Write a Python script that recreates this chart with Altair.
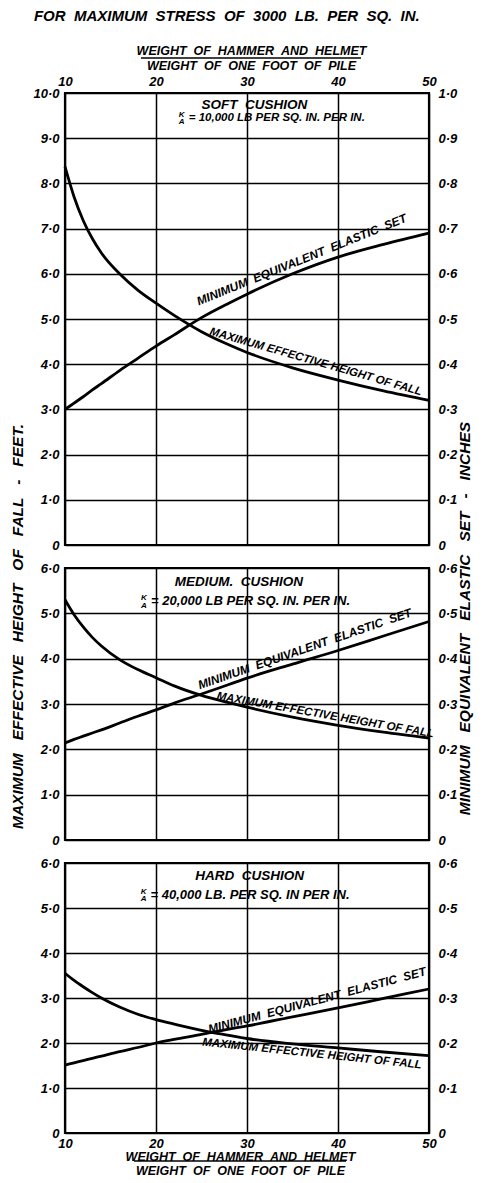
import altair as alt
import pandas as pd

FONT = "Liberation Sans"
NB = "\u00a0"

# ---------------- data ----------------
weight_ratio = [10, 11, 12, 13, 14, 16, 18, 20, 22, 25, 28, 30, 35, 40, 45, 50]

soft_height_ft = [8.37, 7.7, 7.18, 6.78, 6.46, 6.0, 5.64, 5.35, 5.08, 4.72, 4.43, 4.26, 3.92, 3.65, 3.41, 3.2]
soft_set_in = [0.30, 0.314, 0.328, 0.343, 0.357, 0.386, 0.413, 0.44, 0.465, 0.503, 0.535, 0.555, 0.60, 0.637, 0.665, 0.69]

medium_height_ft = [5.3, 4.97, 4.7, 4.47, 4.28, 3.98, 3.76, 3.58, 3.4, 3.19, 3.03, 2.93, 2.71, 2.53, 2.38, 2.25]
medium_set_in = [0.214, 0.222, 0.229, 0.236, 0.243, 0.258, 0.273, 0.287, 0.302, 0.322, 0.343, 0.357, 0.388, 0.418, 0.45, 0.482]

hard_height_ft = [3.55, 3.39, 3.25, 3.12, 3.0, 2.8, 2.64, 2.52, 2.42, 2.28, 2.17, 2.1, 1.98, 1.89, 1.8, 1.72]
hard_set_in = [0.151, 0.156, 0.161, 0.166, 0.171, 0.181, 0.19, 0.20, 0.208, 0.219, 0.231, 0.238, 0.258, 0.278, 0.299, 0.32]

x_ticks = [10, 20, 30, 40, 50]


def spaced(text, extra):
    return (" " + NB * extra).join(text.split(" "))


x_title = [spaced("WEIGHT OF HAMMER AND HELMET", 1), spaced("WEIGHT OF ONE FOOT OF PILE", 1)]
main_title = spaced("FOR MAXIMUM STRESS OF 3000 LB. PER SQ. IN.", 1)
left_title = spaced("MAXIMUM EFFECTIVE HEIGHT OF FALL - FEET.", 2)
right_title = spaced("MINIMUM EQUIVALENT ELASTIC SET - INCHES", 2)
set_label = spaced("MINIMUM EQUIVALENT ELASTIC SET", 1)
fall_label = spaced("MAXIMUM EFFECTIVE HEIGHT OF FALL", 0)

panels = [
    {"name": spaced("SOFT CUSHION", 1), "stiff": "= 10,000 LB PER SQ. IN. PER IN.", "stiff_size": 11.5,
     "height": soft_height_ft, "set": soft_set_in, "ymax": 10, "setmax": 1.0},
    {"name": spaced("MEDIUM. CUSHION", 1), "stiff": "= 20,000 LB PER SQ. IN. PER IN.", "stiff_size": 13,
     "height": medium_height_ft, "set": medium_set_in, "ymax": 6, "setmax": 0.6},
    {"name": spaced("HARD CUSHION", 1), "stiff": "= 40,000 LB. PER SQ. IN PER IN.", "stiff_size": 13,
     "height": hard_height_ft, "set": hard_set_in, "ymax": 6, "setmax": 0.6},
]

# annotation anchors in data units (x = weight ratio, y = feet), angle in degrees, side of the curve
name_pos = [(30.8, 9.73), (29.1, 5.69), (30.3, 5.71)]
stiff_pos = [(23.6, 9.45), (19.45, 5.27), (19.4, 5.29)]
set_label_pos = [(36.3, 6.17, 338, "bottom"), (36.6, 4.07, 341, "bottom"), (37.9, 2.8, 345, "bottom")]
fall_label_pos = [(37.4, 3.94, 16, "bottom"), (38.5, 2.64, 10, "bottom"), (37.2, 1.89, 6, "top")]

PLOT_W = 364
PLOT_H = [452, 272, 270]

LABEL_EXPR = "datum.value == 0 ? '0' : replace(format(datum.value, '.1f'), '.', '·')"

TXT = dict(font=FONT, fontStyle="italic", fontWeight="bold", color="black")


def one_point(x, y):
    return pd.DataFrame({"ratio": [x], "height": [y]})


def make_panel(i):
    p = panels[i]
    df = pd.DataFrame({"ratio": weight_ratio, "height": p["height"], "set": p["set"]})
    ymax = p["ymax"]
    setmax = p["setmax"]

    if i == 0:
        x_axis = alt.Axis(orient="top", values=x_ticks, labelFlush=False, labelPadding=5,
                          title=x_title, titlePadding=3, titleLineHeight=15, titleX=186, grid=True)
    elif i == 2:
        x_axis = alt.Axis(orient="bottom", values=x_ticks, labelFlush=False, labelPadding=4,
                          title=x_title, titlePadding=0, titleLineHeight=14, titleX=175, grid=True)
    else:
        x_axis = alt.Axis(orient="bottom", values=x_ticks, labels=False, title=None, grid=True)

    x_enc = alt.X("ratio:Q", scale=alt.Scale(domain=[10, 50], nice=False, zero=False), axis=x_axis)

    left_kwargs = dict(orient="left", values=list(range(0, ymax + 1)), grid=True,
                       labelExpr=LABEL_EXPR, labelPadding=6)
    if i == 1:
        left_kwargs.update(title=left_title, titleAngle=270, titleBaseline="bottom",
                           titleX=-40, titleY=58, titleFontSize=15.5)
    else:
        left_kwargs.update(title=None)
    y_enc = alt.Y("height:Q", scale=alt.Scale(domain=[0, ymax], nice=False), axis=alt.Axis(**left_kwargs))

    right_kwargs = dict(orient="right", values=[round(k * 0.1, 1) for k in range(0, int(round(setmax * 10)) + 1)],
                        grid=False, labelExpr=LABEL_EXPR, labelPadding=9)
    if i == 1:
        right_kwargs.update(title=right_title, titleAngle=270, titleBaseline="bottom",
                            titleX=43, titleY=50, titleFontSize=15.5)
    else:
        right_kwargs.update(title=None)
    y2_enc = alt.Y("set:Q", scale=alt.Scale(domain=[0, setmax], nice=False), axis=alt.Axis(**right_kwargs))

    height_line = alt.Chart(df).mark_line(color="black", strokeWidth=2.8, interpolate="monotone").encode(
        x=x_enc, y=y_enc)
    set_line = alt.Chart(df).mark_line(color="black", strokeWidth=2.8, interpolate="monotone").encode(
        x=x_enc, y=y2_enc)

    layers = [height_line]
    nx, ny = name_pos[i]
    layers.append(alt.Chart(one_point(nx, ny)).mark_text(text=p["name"], fontSize=13.5, align="center",
                                                         baseline="middle", **TXT).encode(x=x_enc, y=y_enc))
    sx, sy = stiff_pos[i]
    layers.append(alt.Chart(one_point(sx, sy)).mark_text(text=p["stiff"], fontSize=p["stiff_size"], align="left",
                                                         baseline="middle", **TXT).encode(x=x_enc, y=y_enc))
    layers.append(alt.Chart(one_point(sx, sy)).mark_text(text=["K", "A"], fontSize=8, lineHeight=7.5,
                                                         align="center", baseline="middle", dx=-7, dy=-3,
                                                         **TXT).encode(x=x_enc, y=y_enc))
    ex, ey, ea, eb = set_label_pos[i]
    layers.append(alt.Chart(one_point(ex, ey)).mark_text(text=set_label, fontSize=12,
                                                         angle=ea, align="center", baseline=eb,
                                                         **TXT).encode(x=x_enc, y=y_enc))
    fx, fy, fa, fb = fall_label_pos[i]
    layers.append(alt.Chart(one_point(fx, fy)).mark_text(text=fall_label, fontSize=11.5,
                                                         angle=fa, align="center", baseline=fb,
                                                         **TXT).encode(x=x_enc, y=y_enc))
    bar = pd.DataFrame({"a": [0]})
    if i == 0:
        layers.append(alt.Chart(bar).mark_rule(color="black", strokeWidth=1.5).encode(
            x=alt.value(76), x2=alt.value(296), y=alt.value(-35)))
    if i == 2:
        layers.append(alt.Chart(bar).mark_rule(color="black", strokeWidth=1.5).encode(
            x=alt.value(69), x2=alt.value(281), y=alt.value(298)))

    left = alt.layer(*layers)
    return alt.layer(left, set_line).resolve_scale(y="independent").properties(
        width=PLOT_W, height=PLOT_H[i])


chart = alt.vconcat(make_panel(0), make_panel(1), make_panel(2), spacing=23, bounds="flush").properties(
    title=alt.TitleParams(text=main_title, anchor="start", fontSize=15, font=FONT, fontStyle="italic",
                          fontWeight="bold", color="black", offset=19, dx=25),
    padding={"left": 0, "top": 0, "right": 0, "bottom": 0},
    background="white",
).configure_view(stroke="black", strokeWidth=2.2).configure_axis(
    domain=False, ticks=False, gridColor="black", gridWidth=1.5, gridOpacity=1,
    labelFont=FONT, labelFontStyle="italic", labelFontWeight="bold", labelFontSize=13, labelColor="black",
    titleFont=FONT, titleFontStyle="italic", titleFontWeight="bold", titleFontSize=12.5, titleColor="black",
)

chart.save("out.html", embed_options={"renderer": "svg", "actions": False})
